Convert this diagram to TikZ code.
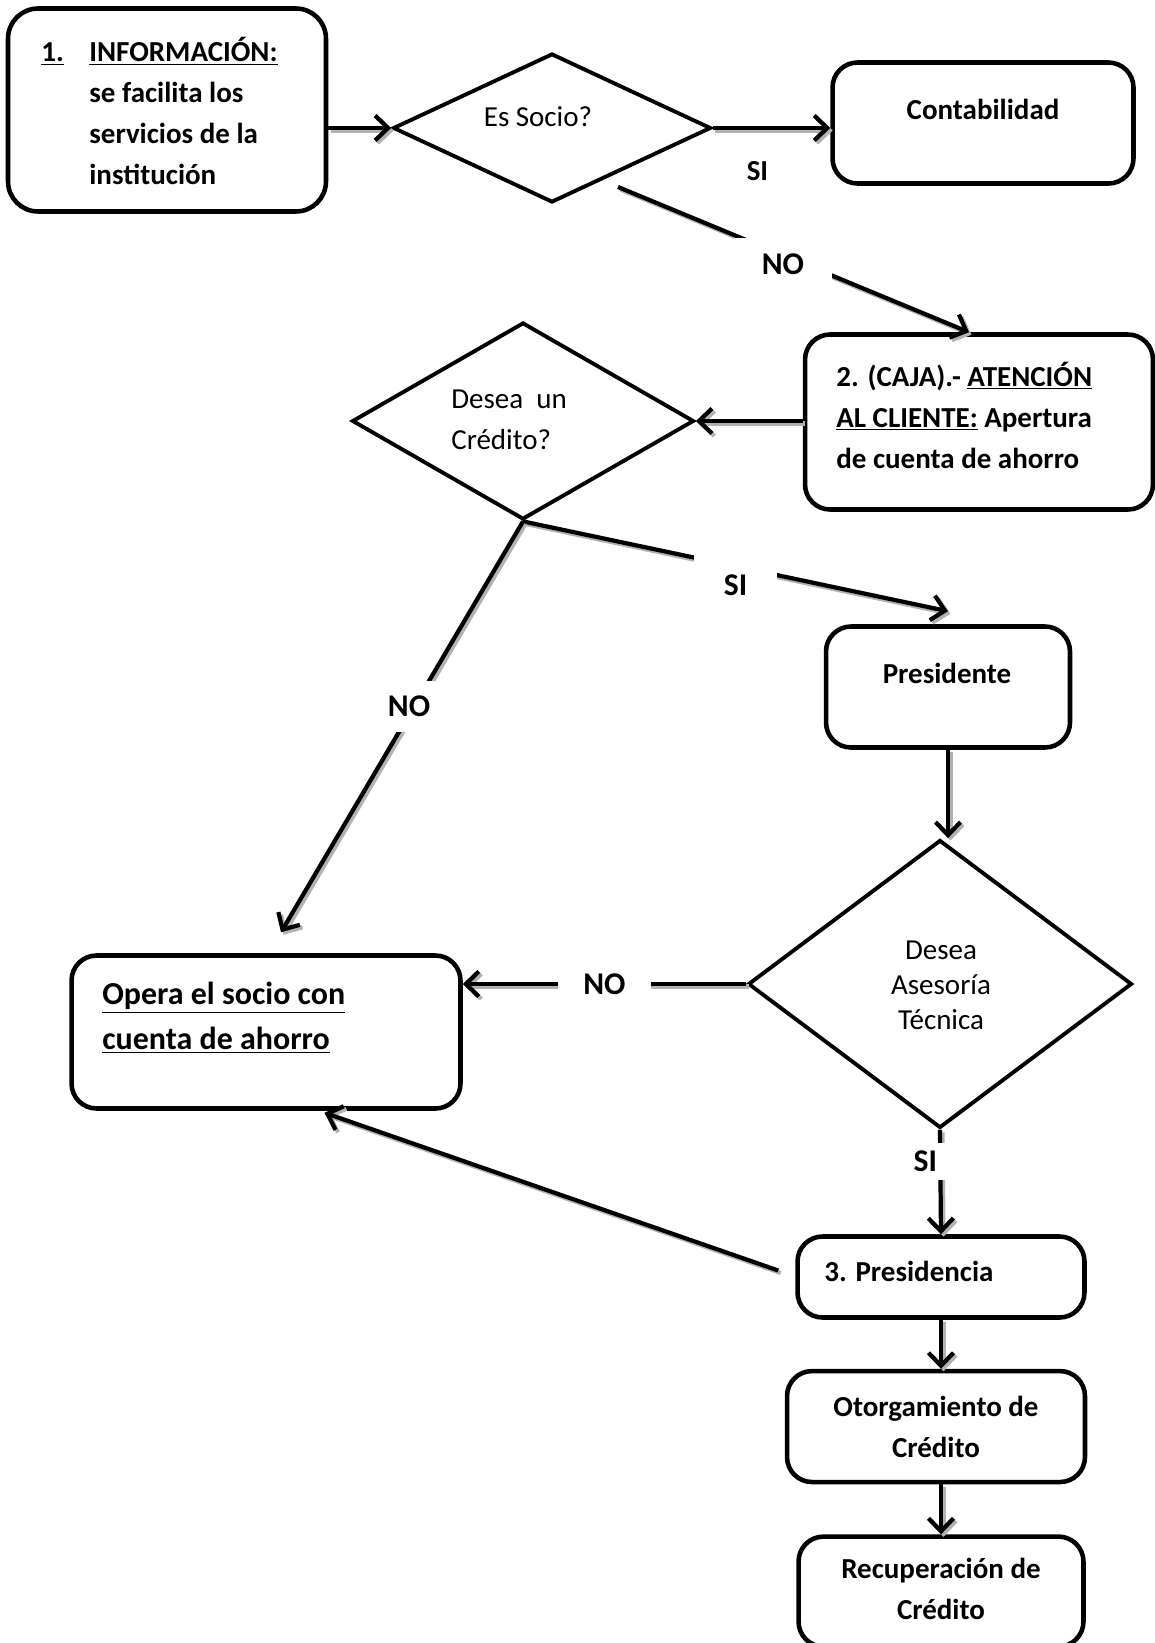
\documentclass[tikz,border=0pt]{standalone}
\usepackage{fontspec}
\setmainfont{Carlito}
\usetikzlibrary{positioning,shapes.geometric,arrows.meta}
\newcommand{\letra}{\fontsize{16.5}{23.3}\selectfont}

\begin{document}
\begin{tikzpicture}[x=0.02cm, y=-0.02cm,
    caja/.style={draw, rounded corners=0.5cm, line width=2.6pt},
    rombo/.style={draw, diamond, line width=2.2pt, inner sep=0pt},
    texto/.style={font=\letra\bfseries, align=left, inner sep=0pt},
    normal/.style={font=\letra, align=left, inner sep=0pt},
    flecha/.style={line width=2.4pt, -{Straight Barb[length=0.26cm,width=0.5cm]},
      preaction={draw=gray!60, line width=2.4pt, -{Straight Barb[length=0.26cm,width=0.5cm]},
        transform canvas={shift={(0.05cm,-0.05cm)}}}},
    etiq/.style={font=\fontsize{18}{22}\selectfont\bfseries, fill=white, inner xsep=0.5cm, inner ysep=0.15cm}]
  \useasboundingbox (0,0) rectangle (1155,1643);
  \clip (0,0) rectangle (1155,1643);

  % cajas
  \node[caja, rounded corners=0.6cm, minimum width=6.36cm, minimum height=4.06cm] (info) at (167,110) {};
  \node[caja, minimum width=6.02cm, minimum height=2.42cm] (conta) at (983,123) {};
  \node[caja, minimum width=6.96cm, minimum height=3.5cm] (atencion) at (979,422) {};
  \node[caja, minimum width=4.88cm, minimum height=2.42cm] (pres) at (948,687) {};
  \node[caja, minimum width=7.78cm, minimum height=3.06cm] (opera) at (266,1032) {};
  \node[caja, minimum width=5.74cm, minimum height=1.62cm] (presid) at (941,1277) {};
  \node[caja, minimum width=5.96cm, minimum height=2.22cm, below=0.98cm of presid, xshift=-0.1cm] (otorga) {};
  \node[caja, minimum width=5.7cm, minimum height=2.2cm, below=1.0cm of presid |- otorga.south] (recup) {};

  % rombos
  \node[rombo, minimum width=6.36cm, minimum height=2.98cm] (socio) at (552,128) {};
  \node[rombo, minimum width=6.84cm, minimum height=3.94cm] (credito) at (523,421) {};
  \node[rombo, minimum width=7.68cm, minimum height=5.76cm] (asesoria) at (940,984) {};

  % textos
  \node[texto, anchor=west] (infot) at (89,111) {\llap{\underline{1.}\hspace{0.51cm}}\underline{INFORMACIÓN:}\\ se facilita los\\ servicios de la\\ institución};
  \node[texto] (contat) at (983,109) {Contabilidad};
  \node[texto, anchor=west] (atenciont) at (836,415) {2. (CAJA).- \underline{ATENCIÓN}\\ \underline{AL CLIENTE:} Apertura\\ de cuenta de ahorro};
  \node[texto] (prest) at (947,673) {Presidente};
  \node[texto, anchor=west, font=\fontsize{18.2}{25.6}\selectfont\bfseries] (operat) at (102,1018) {\underline{Opera el socio con}\\ \underline{cuenta de ahorro}};
  \node[texto, anchor=west] (presidt) at (824,1271) {3. Presidencia};
  \node[texto, align=center] (otorgat) at (otorga) {Otorgamiento de\\ Crédito};
  \node[texto, align=center] (recupt) at ([yshift=0.06cm]recup.center) {Recuperación de\\ Crédito};
  \node[normal] (sociot) at (538,117) {Es Socio?};
  \node[normal, anchor=west] (creditot) at (451,420) {Desea\ \ un\\ Crédito?};
  \node[normal, align=center, font=\fontsize{16.5}{19.9}\selectfont] (asesoriat) at (941,985) {Desea\\ Asesoría\\ Técnica};

  % flechas
  \coordinate (no1) at (618,187);
  \draw[flecha] (info.east |- socio.west) -- (socio.west);
  \draw[flecha] (socio.east) -- (conta.west |- socio.east)
    node[texto, pos=0.38, below=0.62cm] (si1) {SI};
  \draw[flecha] (no1) -- ([xshift=-0.2cm]atencion.north)
    node[etiq, pos=0.47, yshift=-0.17cm, inner xsep=0.55cm, inner ysep=0.3cm] (no1t) {NO};
  \draw[flecha] (atencion.west |- credito.east) -- (credito.east);
  \draw[flecha] (credito.south) -- ([yshift=0.26cm]pres.north)
    node[etiq, pos=0.5, yshift=-0.38cm, inner xsep=0.6cm, inner ysep=0.45cm] (si2) {SI};
  \draw[flecha] (credito.south) -- ([xshift=0.3cm,yshift=0.42cm]opera.north)
    node[etiq, pos=0.45, xshift=-0.1cm, inner xsep=0.1cm, inner ysep=0.3cm] (no2) {NO};
  \draw[flecha] (pres.south) -- (pres.south |- asesoria.north);
  \draw[flecha] (asesoria.west) -- (opera.east |- asesoria.west)
    node[etiq, pos=0.5, inner xsep=0.5cm] (no3) {NO};
  \draw[flecha] (asesoria.south) -- (presid.north)
    node[etiq, pos=0.3, xshift=-0.3cm, inner xsep=0.4cm, inner ysep=0.16cm] (si3) {SI};
  \draw[flecha] ([xshift=-0.34cm,yshift=0.13cm]presid.west) -- ([xshift=1.17cm,yshift=-0.04cm]opera.south);
  \draw[flecha] (presid.south) -- (presid.south |- otorga.north);
  \draw[flecha] (presid.south |- otorga.south) -- (recup.north);
\end{tikzpicture}
\end{document}
